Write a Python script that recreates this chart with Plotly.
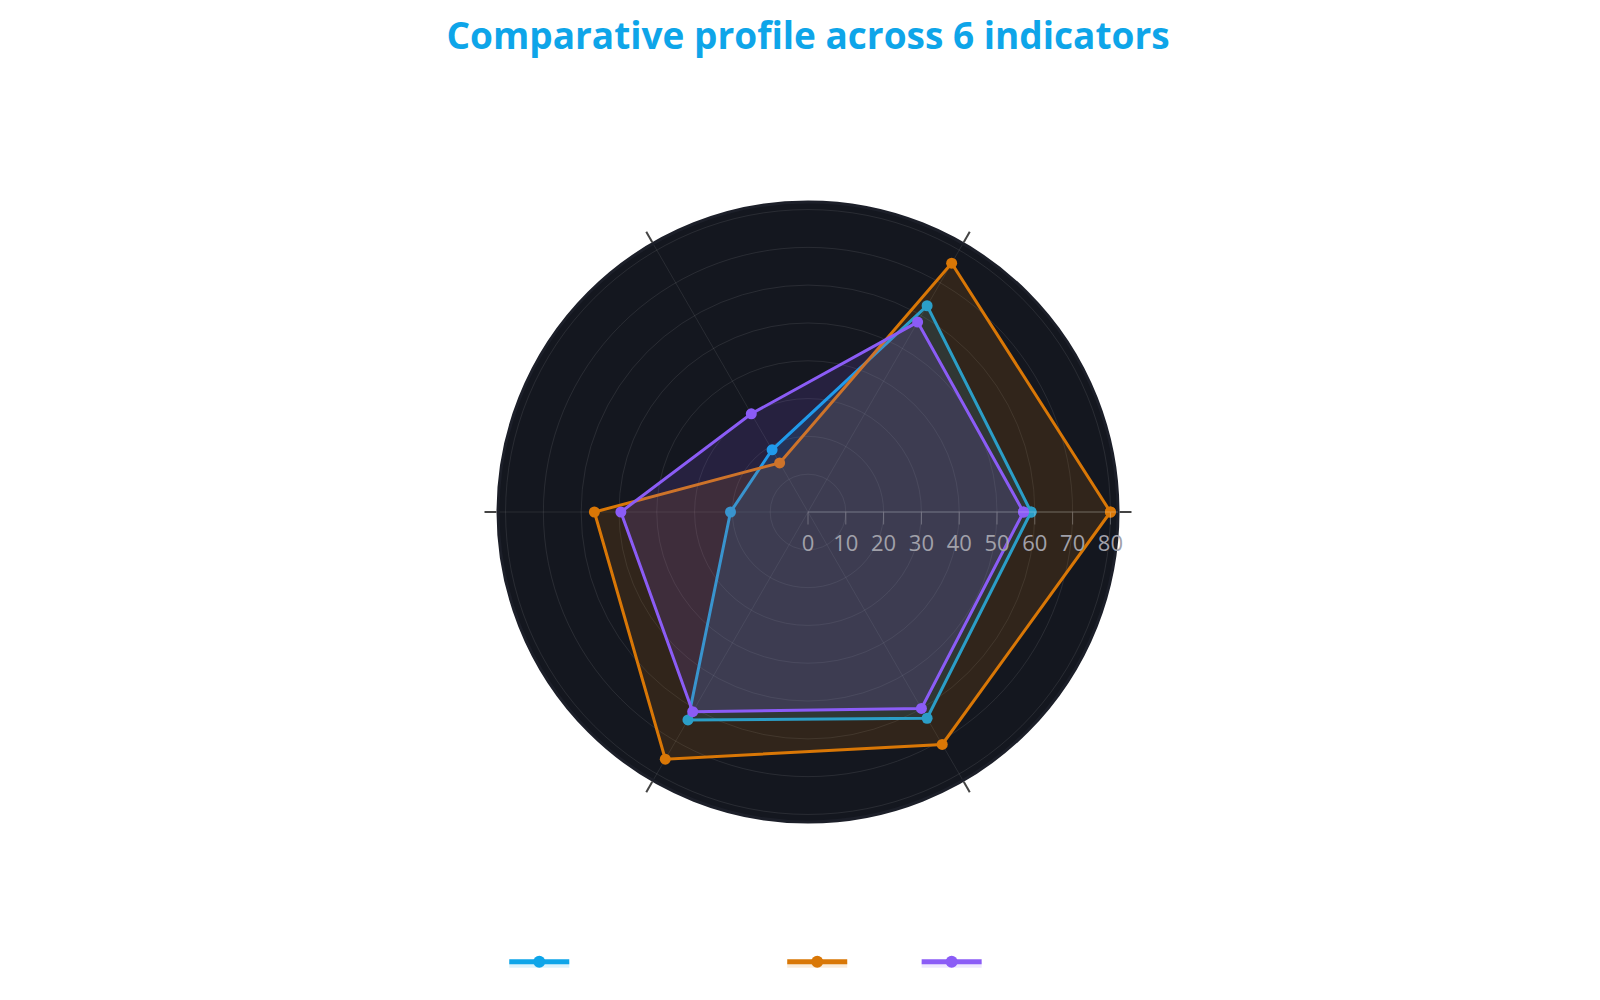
import plotly.graph_objects as go

# six indicators, hidden angular labels in the reference
indicators = ["Indicator 1", "Indicator 2", "Indicator 3",
              "Indicator 4", "Indicator 5", "Indicator 6"]

series_names = ["Reference group (nation mean)", "Variant B", "Variant C"]
series_a = [59, 63, 19, 20.5, 63.5, 63]
series_b = [80, 76, 15, 56.5, 75.5, 71]
series_c = [57, 58, 30, 49.5, 61, 60]

colors = ["#0ea5e9", "#d97706", "#8b5cf6"]
fills = ["rgba(14,165,233,0.15)", "rgba(217,119,6,0.15)", "rgba(139,92,246,0.15)"]

radial_ticks = [0, 10, 20, 30, 40, 50, 60, 70, 80]

fig = go.Figure()

for name, vals, col, fc in zip(series_names, [series_a, series_b, series_c], colors, fills):
   fig.add_trace(go.Scatterpolar(
      r=vals + vals[:1],
      theta=indicators + indicators[:1],
      mode='lines+markers',
      name=name,
      fill='toself',
      fillcolor=fc,
      line=dict(color=col, width=3),
      marker=dict(color=col, size=11),
   ))

fig.update_layout(
   width=1600,
   height=1000,
   paper_bgcolor='white',
   plot_bgcolor='white',
   title=dict(
      text="<b>Comparative profile across 6 indicators</b>",
      x=0.5,
      xanchor='center',
      y=0.972,
      yanchor='middle',
      font=dict(family="Open Sans", size=37, color="#0ea5e9"),
   ),
   margin=dict(l=80, r=80, t=194, b=186),
   polar=dict(
      bgcolor="#14171f",
      domain=dict(x=[0, 1], y=[0, 1]),
      radialaxis=dict(
         range=[0, 82],
         tickvals=radial_ticks,
         angle=0,
         showline=True,
         linecolor="rgba(255,255,255,0.25)",
         gridcolor="rgba(255,255,255,0.09)",
         tickfont=dict(family="Open Sans", size=22, color="#a1a1aa"),
         ticks='outside',
         ticklen=12,
         tickcolor="rgba(255,255,255,0.25)",
      ),
      angularaxis=dict(
         rotation=0,
         direction='counterclockwise',
         showticklabels=False,
         ticks='outside',
         ticklen=12,
         tickwidth=1.5,
         tickcolor="#444444",
         gridcolor="rgba(255,255,255,0.09)",
         linecolor="#1c1f29",
         linewidth=3,
      ),
   ),
   showlegend=True,
   legend=dict(
      orientation='h',
      itemwidth=60,
      itemsizing='constant',
      x=0.479,
      xanchor='center',
      y=-0.226,
      yanchor='middle',
      font=dict(family="Open Sans", size=14, color="white"),
   ),
)

fig.write_html("out.html")
